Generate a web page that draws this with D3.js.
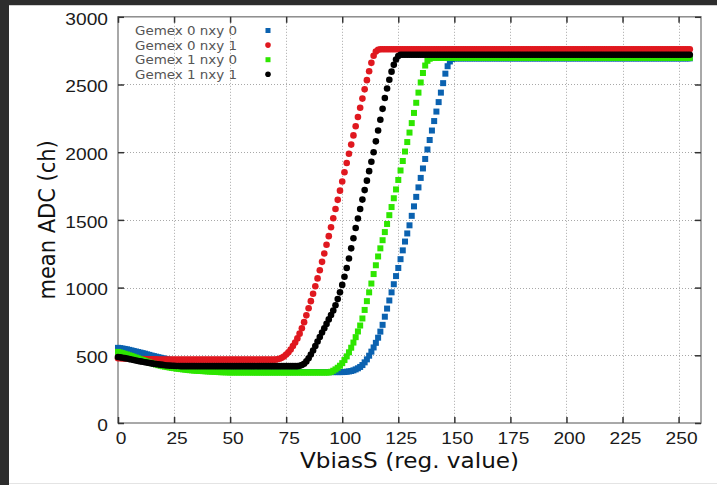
<!DOCTYPE html>
<html lang="en">
  <head>
    <meta charset="UTF-8" />
    <title>mean ADC vs VbiasS</title>
    <style>
      html, body { margin: 0; padding: 0; background: #fff; }
      svg { display: block; font-family: "DejaVu Sans", sans-serif; }
    </style>
  </head>
  <body>
    <div id="chart"></div>

    <script src="https://cdn.jsdelivr.net/npm/d3@7/dist/d3.min.js"></script>
    <script>
      // VbiasS register value 0..255, one reading per step
      const vbias = d3.range(0, 256);

      const seriesNames = ["Gemex 0 nxy 0", "Gemex 0 nxy 1", "Gemex 1 nxy 0", "Gemex 1 nxy 1"];
      const seriesColors = ["#0b62b0", "#e0181f", "#2ee600", "#000000"];
      const seriesShapes = ["square", "circle", "square", "circle"];

      const xTicks = [0, 25, 50, 75, 100, 125, 150, 175, 200, 225, 250];
      const yTicks = [0, 500, 1000, 1500, 2000, 2500, 3000];

      // Gemex 0 nxy 0 (blue squares)
      const gemex0nxy0 = [
        555,553,550,547,544,540,536,532,528,524,
        520,516,512,507,503,498,494,490,486,482,
        478,474,470,467,463,460,456,452,448,444,
        440,436,432,428,424,420,416,412,408,405,
        402,399,396,394,392,390,388,386,385,384,
        382,381,380,379,379,378,378,377,377,377,
        376,376,376,376,376,376,376,376,376,376,
        376,376,376,376,376,376,376,376,376,376,
        376,376,376,376,376,376,376,376,376,376,
        376,376,376,376,376,376,376,376,376,376,
        376,377,379,381,384,389,396,404,414,428,
        448,470,497,527,558,592,630,675,725,785,
        845,905,965,1025,1085,1145,1210,1275,1340,1400,
        1460,1530,1600,1670,1740,1810,1880,1950,2020,2090,
        2160,2230,2300,2370,2440,2510,2580,2635,2670,2688,
        2693,2693,2693,2693,2693,2693,2693,2693,2693,2693,
        2693,2693,2693,2693,2693,2693,2693,2693,2693,2693,
        2693,2693,2693,2693,2693,2693,2693,2693,2693,2693,
        2693,2693,2693,2693,2693,2693,2693,2693,2693,2693,
        2693,2693,2693,2693,2693,2693,2693,2693,2693,2693,
        2693,2693,2693,2693,2693,2693,2693,2693,2693,2693,
        2693,2693,2693,2693,2693,2693,2693,2693,2693,2693,
        2693,2693,2693,2693,2693,2693,2693,2693,2693,2693,
        2693,2693,2693,2693,2693,2693,2693,2693,2693,2693,
        2693,2693,2693,2693,2693,2693,2693,2693,2693,2693,
        2693,2693,2693,2693,2693,2693
      ];

      // Gemex 0 nxy 1 (red circles)
      const gemex0nxy1 = [
        478,478,477,477,476,476,475,474,474,473,
        473,472,472,471,471,470,470,470,469,469,
        469,469,468,468,468,468,468,468,468,468,
        468,468,468,468,468,468,468,468,468,468,
        468,468,468,468,468,468,468,468,468,468,
        468,468,468,468,468,468,468,468,468,468,
        468,468,468,468,468,468,468,468,468,468,
        468,470,474,481,491,505,522,543,568,595,
        625,660,700,745,795,848,900,955,1010,1068,
        1128,1190,1252,1316,1380,1446,1512,1580,1648,1716,
        1784,1852,1920,1988,2056,2124,2192,2260,2328,2396,
        2464,2532,2598,2660,2712,2744,2756,2760,2760,2760,
        2760,2760,2760,2760,2760,2760,2760,2760,2760,2760,
        2760,2760,2760,2760,2760,2760,2760,2760,2760,2760,
        2760,2760,2760,2760,2760,2760,2760,2760,2760,2760,
        2760,2760,2760,2760,2760,2760,2760,2760,2760,2760,
        2760,2760,2760,2760,2760,2760,2760,2760,2760,2760,
        2760,2760,2760,2760,2760,2760,2760,2760,2760,2760,
        2760,2760,2760,2760,2760,2760,2760,2760,2760,2760,
        2760,2760,2760,2760,2760,2760,2760,2760,2760,2760,
        2760,2760,2760,2760,2760,2760,2760,2760,2760,2760,
        2760,2760,2760,2760,2760,2760,2760,2760,2760,2760,
        2760,2760,2760,2760,2760,2760,2760,2760,2760,2760,
        2760,2760,2760,2760,2760,2760,2760,2760,2760,2760,
        2760,2760,2760,2760,2760,2760,2760,2760,2760,2760,
        2760,2760,2760,2760,2760,2760
      ];

      // Gemex 1 nxy 0 (green squares)
      const gemex1nxy0 = [
        525,521,516,511,506,500,495,489,483,477,
        471,465,459,453,447,442,437,432,427,423,
        419,416,413,410,407,405,402,400,398,396,
        394,392,390,389,387,386,385,384,383,382,
        381,380,379,378,377,376,375,375,374,374,
        373,373,373,373,373,373,373,373,373,373,
        373,373,373,373,373,373,373,373,373,373,
        373,373,373,373,373,373,373,373,373,373,
        373,373,373,373,373,373,373,373,373,373,
        373,373,373,373,373,378,386,396,408,423,
        442,465,492,522,556,594,634,676,720,772,
        835,900,965,1030,1100,1165,1230,1290,1350,1410,
        1470,1535,1595,1660,1725,1795,1865,1935,2005,2075,
        2145,2215,2290,2365,2440,2515,2585,2640,2675,2690,
        2697,2697,2697,2697,2697,2697,2697,2697,2697,2697,
        2697,2697,2697,2697,2697,2697,2697,2697,2697,2697,
        2697,2697,2697,2697,2697,2697,2697,2697,2697,2697,
        2697,2697,2697,2697,2697,2697,2697,2697,2697,2697,
        2697,2697,2697,2697,2697,2697,2697,2697,2697,2697,
        2697,2697,2697,2697,2697,2697,2697,2697,2697,2697,
        2697,2697,2697,2697,2697,2697,2697,2697,2697,2697,
        2697,2697,2697,2697,2697,2697,2697,2697,2697,2697,
        2697,2697,2697,2697,2697,2697,2697,2697,2697,2697,
        2697,2697,2697,2697,2697,2697,2697,2697,2697,2697,
        2697,2697,2697,2697,2697,2697,2697,2697,2697,2697,
        2697,2697,2697,2697,2697,2697
      ];

      // Gemex 1 nxy 1 (black circles)
      const gemex1nxy1 = [
        487,485,482,479,476,472,469,465,462,458,
        455,452,449,446,443,440,437,435,433,431,
        429,427,425,424,423,422,421,421,420,420,
        420,420,420,420,420,420,420,420,420,420,
        420,420,420,420,420,420,420,420,420,420,
        420,420,420,420,420,420,420,420,420,420,
        420,420,420,420,420,420,420,420,420,420,
        420,420,420,420,420,420,420,420,420,420,
        420,422,428,438,455,478,505,535,568,602,
        635,668,700,732,765,797,830,870,915,965,
        1020,1080,1145,1215,1290,1365,1440,1510,1580,1650,
        1720,1790,1860,1930,2000,2080,2160,2240,2320,2400,
        2470,2535,2595,2645,2685,2710,2720,2720,2720,2720,
        2720,2720,2720,2720,2720,2720,2720,2720,2720,2720,
        2720,2720,2720,2720,2720,2720,2720,2720,2720,2720,
        2720,2720,2720,2720,2720,2720,2720,2720,2720,2720,
        2720,2720,2720,2720,2720,2720,2720,2720,2720,2720,
        2720,2720,2720,2720,2720,2720,2720,2720,2720,2720,
        2720,2720,2720,2720,2720,2720,2720,2720,2720,2720,
        2720,2720,2720,2720,2720,2720,2720,2720,2720,2720,
        2720,2720,2720,2720,2720,2720,2720,2720,2720,2720,
        2720,2720,2720,2720,2720,2720,2720,2720,2720,2720,
        2720,2720,2720,2720,2720,2720,2720,2720,2720,2720,
        2720,2720,2720,2720,2720,2720,2720,2720,2720,2720,
        2720,2720,2720,2720,2720,2720,2720,2720,2720,2720,
        2720,2720,2720,2720,2720,2720
      ];

      const seriesValues = [gemex0nxy0, gemex0nxy1, gemex1nxy0, gemex1nxy1];

      (() => {
        const width = 717;
        const height = 485;
        const stretch = 1.13; // text in the original is a bit wider than tall

        const svg = d3
          .select("#chart")
          .append("svg")
          .attr("width", width)
          .attr("height", height);

        // screenshot frame: dark strips top and left
        svg.append("rect").attr("width", width).attr("height", height).attr("fill", "#fff");
        svg.append("rect").attr("width", width).attr("height", 5).attr("fill", "#2d2d2d");
        svg.append("rect").attr("width", 9).attr("height", height).attr("fill", "#2d2d2d");
        svg.append("line")
          .attr("x1", 9).attr("x2", width).attr("y1", 5.5).attr("y2", 5.5)
          .attr("stroke", "#d0d0d0");
        svg.append("line")
          .attr("x1", 9).attr("x2", width).attr("y1", 483.5).attr("y2", 483.5)
          .attr("stroke", "#e4e4e4");

        const x = d3.scaleLinear().domain([0, 260]).range([118, 701]);
        const y = d3.scaleLinear().domain([0, 3000]).range([423, 16.8]);

        // dotted grid
        const grid = svg.append("g")
          .attr("stroke", "#a8a8a8")
          .attr("stroke-width", 1)
          .attr("stroke-dasharray", "1,2");
        grid.selectAll(".gx")
          .data(xTicks.filter((d) => d > 0))
          .join("line")
          .attr("x1", (d) => Math.round(x(d)) + 0.5)
          .attr("x2", (d) => Math.round(x(d)) + 0.5)
          .attr("y1", y(3000))
          .attr("y2", y(0));
        grid.selectAll(".gy")
          .data(yTicks.filter((d) => d > 0 && d < 3000))
          .join("line")
          .attr("x1", x(0))
          .attr("x2", x(260))
          .attr("y1", (d) => Math.round(y(d)) + 0.5)
          .attr("y2", (d) => Math.round(y(d)) + 0.5);

        // frame
        svg.append("rect")
          .attr("x", x(0))
          .attr("y", y(3000))
          .attr("width", x(260) - x(0))
          .attr("height", y(0) - y(3000))
          .attr("fill", "none")
          .attr("stroke", "#8c8c8c")
          .attr("stroke-width", 1.5);

        // ticks on all four sides, pointing inwards
        const styleAxis = (g) => {
          g.select(".domain").remove();
          g.selectAll(".tick line").attr("stroke", "#333").attr("stroke-width", 1.5);
          g.selectAll("text").attr("fill", "#1a1a1a").attr("font-size", 17);
        };

        svg.append("g")
          .attr("transform", `translate(0,${y(0)})`)
          .call(d3.axisBottom(x).tickValues(xTicks).tickSize(-6).tickPadding(9).tickFormat(d3.format("d")))
          .call(styleAxis)
          .call((g) => g.selectAll("text")
            .attr("font-family", null)
            .attr("transform", `translate(2.5,0) scale(${stretch},1)`));

        svg.append("g")
          .attr("transform", `translate(0,${y(3000)})`)
          .call(d3.axisTop(x).tickValues(xTicks).tickSize(-6).tickFormat(""))
          .call(styleAxis);

        svg.append("g")
          .attr("transform", `translate(${x(0)},0)`)
          .call(d3.axisLeft(y).tickValues(yTicks).tickSize(-6).tickPadding(0).tickFormat(d3.format("d")))
          .call(styleAxis)
          .call((g) => g.selectAll("text")
            .attr("x", 0)
            .attr("dy", "0.4em")
            .attr("font-family", null)
            .attr("transform", `translate(-10,0.5) scale(${stretch},1)`));

        svg.append("g")
          .attr("transform", `translate(${x(260)},0)`)
          .call(d3.axisRight(y).tickValues(yTicks).tickSize(-6).tickFormat(""))
          .call(styleAxis);

        // axis titles
        svg.append("text")
          .attr("transform", `translate(${(x(0) + x(260)) / 2},468) scale(${stretch},1)`)
          .attr("text-anchor", "middle")
          .attr("font-size", 20.5)
          .attr("fill", "#111")
          .text("VbiasS (reg. value)");

        svg.append("text")
          .attr("transform", `translate(55,${(y(0) + y(3000)) / 2}) rotate(-90) scale(1,${stretch})`)
          .attr("text-anchor", "middle")
          .attr("font-size", 21)
          .attr("fill", "#111")
          .text("mean ADC (ch)");

        // markers, drawn series by series
        const drawMarker = (sel, shape, size) => {
          if (shape === "square") {
            sel.append("rect")
              .attr("x", -size / 2)
              .attr("y", -size / 2)
              .attr("width", size)
              .attr("height", size);
          } else {
            sel.append("circle").attr("r", size / 2 + 0.3);
          }
        };

        const plot = svg.append("g");
        seriesValues.forEach((vals, i) => {
          const g = plot.append("g").attr("fill", seriesColors[i]);
          const pts = g.selectAll("g")
            .data(vbias.map((v, k) => [v, vals[k]]))
            .join("g")
            .attr("transform", (d) => `translate(${x(d[0])},${y(d[1])})`);
          drawMarker(pts, seriesShapes[i], 6);
        });

        // legend
        const legend = svg.append("g");
        seriesNames.forEach((name, i) => {
          const yy = 35 + i * 14.6;
          legend.append("text")
            .attr("x", 135)
            .attr("y", yy)
            .attr("font-size", 13)
            .attr("textLength", 102)
            .attr("lengthAdjust", "spacingAndGlyphs")
            .attr("fill", "#555")
            .text(name);
          const m = legend.append("g")
            .attr("fill", seriesColors[i])
            .attr("transform", `translate(268,${yy - 4.5})`);
          drawMarker(m, seriesShapes[i], 5);
        });
      })();
    </script>
  </body>
</html>
